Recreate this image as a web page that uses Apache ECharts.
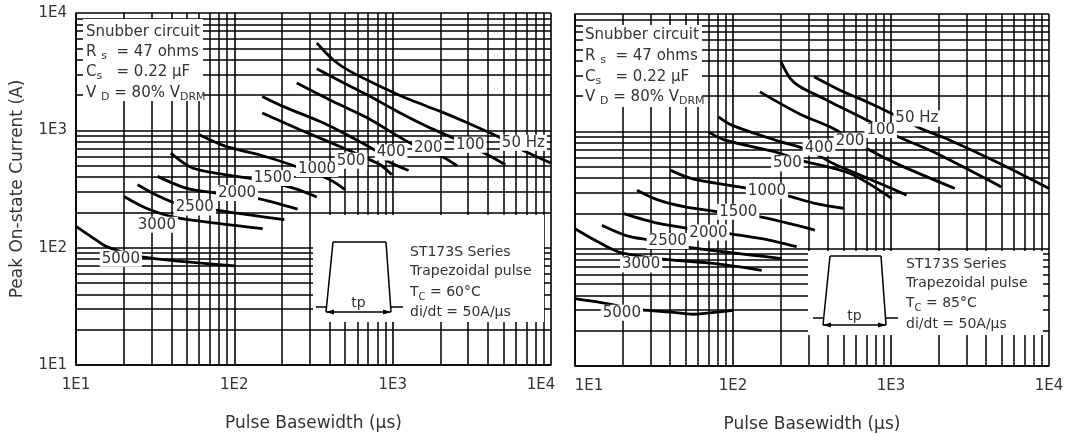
<!DOCTYPE html>
<html><head><meta charset="utf-8">
<script src="https://cdn.jsdelivr.net/npm/echarts/dist/echarts.min.js"></script>
<style>html,body{margin:0;padding:0;background:#fff}#c{width:1068px;height:436px}</style>
</head><body><div id="c"></div>
<script>
// ---------- data ----------
const xTickLabels = ['1E1','1E2','1E3','1E4'];
const yTickLabels = ['1E1','1E2','1E3','1E4'];
const minorTicks = [20,30,40,50,60,70,80,90,200,300,400,500,600,700,800,900,2000,3000,4000,5000,6000,7000,8000,9000];

// Left panel: TC = 60°C
const L_50   = [[332,5550],[420,4000],[539,3180],[871,2310],[1290,1820],[2000,1450],[2960,1160],[4790,865],[6690,674],[10000,526]];
const L_100  = [[332,3350],[539,2370],[690,2010],[1070,1450],[1650,1080],[2410,860],[3740,648],[5150,509]];
const L_200  = [[248,2530],[420,1760],[690,1280],[1290,779],[2050,599],[2550,499]];
const L_400  = [[150,1945],[203,1600],[348,1190],[486,954],[795,661],[920,550],[1260,455]];
const L_500  = [[150,1404],[260,1012],[489,707],[670,584],[834,509],[988,418]];
const L_1000 = [[60,917],[88.5,729],[144,619],[251,487],[402,379],[500,312]];
const L_1500 = [[39.7,640],[54.5,477],[88.5,418],[131,385],[236,322],[332,270]];
const L_2000 = [[32.7,405],[49.4,322],[76.5,292],[137,265],[251,213]];
const L_2500 = [[24.5,344],[31.9,283],[42.7,240],[74.6,210],[207,173]];
const L_3000 = [[20.1,273],[27.6,218],[41.7,182],[81.1,160],[151,145]];
const L_5000 = [[10,152],[13.3,117],[15.6,102],[25.3,84],[101,70]];
const L_labels = [[6690,784,'50 Hz'],[3090,754,'100'],[1680,707,'200'],[978,648,'400'],[546,551,'500'],[333,468,'1000'],[175,392,'1500'],[104,292,'2000'],[56.3,220,'2500'],[32.4,157,'3000'],[19.2,80.4,'5000']];

// Right panel: TC = 85°C
const R_50   = [[326,2920],[499,2170],[701,1790],[1009,1420],[1490,1080],[2360,841],[4880,532],[10000,326]];
const R_100  = [[201,3920],[230,2830],[266,2400],[355,1970],[431,1730],[701,1250],[1058,928],[1850,669],[5000,336]];
const R_200  = [[148,2170],[266,1400],[431,1058],[701,715],[1138,515],[2535,326]];
const R_400  = [[80.9,1330],[98.3,1130],[185,841],[300,691],[431,532],[736,391],[1255,286]];
const R_500  = [[69.9,990],[89.1,841],[185,669],[266,568],[550,437],[1009,268]];
const R_1000 = [[40,467],[54.9,396],[125,326],[213,286],[330,243],[499,221]];
const R_1500 = [[24.7,315],[33.8,259],[49.8,227],[80.9,206],[141,189],[330,144]];
const R_2000 = [[20.3,199],[33.8,164],[53.6,148],[91.4,135],[152,122],[253,104]];
const R_2500 = [[14.8,158],[20.8,130],[29.9,118],[51,103],[204,82.3]];
const R_3000 = [[10,148],[13.4,118],[18.9,93.7],[33.8,82.3],[77.1,74.6],[152,65.4]];
const R_5000 = [[10,37.5],[15.2,34.4],[25.9,30.2],[40,28.8],[56.2,27.6],[79,28.8],[100.6,29.8]];
const R_labels = [[1458,1289,'50 Hz'],[861,1024,'100'],[550,830,'200'],[350,723,'400'],[221,532,'500'],[164,311,'1000'],[108,206,'1500'],[69.9,137,'2000'],[38.6,116,'2500'],[26.2,73.2,'3000'],[19.8,28.5,'5000']];

// ---------- chart ----------
const F = 'DejaVu Sans';
const TXT = '#333';
const chart = echarts.init(document.getElementById('c'), null, {renderer:'canvas'});

function xAxis(idx){
  return {
    type:'log', logBase:10, min:10, max:10000, gridIndex:idx,
    name:'Pulse Basewidth (µs)', nameLocation:'middle', nameGap:50,
    nameTextStyle:{fontFamily:F, fontSize:17, color:TXT},
    axisLine:{show:true, lineStyle:{color:'#000', width:1.6}},
    axisTick:{show:false},
    splitLine:{show:true, lineStyle:{color:'#000', width:1.6}},
    axisLabel:{
      show:true, margin:13, fontFamily:F, fontSize:15, color:TXT,
      formatter:function(v){
        const e = Math.round(Math.log10(v));
        const s = xTickLabels[e-1];
        if(idx===0 && e===4) return '{a|'+s+'}';
        if(idx===1 && e===1) return '{b|'+s+'}';
        return s;
      },
      rich:{
        a:{fontFamily:F, fontSize:15, color:TXT, padding:[0,20,0,0]},
        b:{fontFamily:F, fontSize:15, color:TXT, padding:[0,0,0,28]}
      }
    }
  };
}
function yAxis(idx){
  const o = {
    type:'log', logBase:10, min:10, max:10000, gridIndex:idx,
    axisLine:{show:true, lineStyle:{color:'#000', width:1.6}},
    axisTick:{show:false},
    splitLine:{show:true, lineStyle:{color:'#000', width:1.6}},
    axisLabel:{show: idx===0, margin:9, fontFamily:F, fontSize:15, color:TXT,
      formatter:function(v){ return yTickLabels[Math.round(Math.log10(v))-1]; }}
  };
  if(idx===0){
    o.name='Peak On-state Current (A)'; o.nameLocation='middle'; o.nameGap=50;
    o.nameRotate=90; o.nameTextStyle={fontFamily:F, fontSize:17, color:TXT};
  }
  return o;
}
function gridSeries(idx){
  return {
    type:'line', xAxisIndex:idx, yAxisIndex:idx, data:[[10,10]], showSymbol:false, silent:true,
    lineStyle:{opacity:0}, z:1,
    markLine:{
      silent:true, symbol:['none','none'], label:{show:false}, animation:false,
      lineStyle:{type:'solid', color:'#000', width:1.5},
      emphasis:{disabled:true},
      data: minorTicks.map(v=>({xAxis:v})).concat(minorTicks.map(v=>({yAxis:v})))
    }
  };
}
function curve(idx, d){
  return {type:'line', xAxisIndex:idx, yAxisIndex:idx, data:d, showSymbol:false, smooth:0.3,
    silent:true, lineStyle:{color:'#000', width:2.8}, z:3};
}
function labels(idx, d){
  return {type:'scatter', xAxisIndex:idx, yAxisIndex:idx, data:d, symbolSize:1, silent:true,
    itemStyle:{color:'rgba(0,0,0,0)', opacity:1}, z:5,
    emphasis:{disabled:true},
    label:{show:true, position:'inside', formatter:p=>p.data[2], backgroundColor:'#fff',
      padding:[1,2,0,2], fontFamily:F, fontSize:15, color:TXT, opacity:1,
      textBorderWidth:0, textShadowBlur:0}};
}

const series = [gridSeries(0), gridSeries(1)];
[L_50,L_100,L_200,L_400,L_500,L_1000,L_1500,L_2000,L_2500,L_3000,L_5000].forEach(d=>series.push(curve(0,d)));
[R_50,R_100,R_200,R_400,R_500,R_1000,R_1500,R_2000,R_2500,R_3000,R_5000].forEach(d=>series.push(curve(1,d)));
series.push(labels(0,L_labels));
series.push(labels(1,R_labels));

// ---------- annotations ----------
const RICH = function(sz){ return {
  n:{fontFamily:F, fontSize:sz, fill:TXT, color:TXT, lineHeight:20},
  s:{fontFamily:F, fontSize:sz-4, fill:TXT, color:TXT, lineHeight:12, verticalAlign:'bottom'}
};};
function t(x,y,str,sz){
  return {type:'text', x:x, y:y, z:101, silent:true,
    style:{text:str, rich:RICH(sz), fontFamily:F, fontSize:sz, fill:TXT, verticalAlign:'middle', align:'left'}};
}
function rect(x,y,w,h){ return {type:'rect', z:100, silent:true, shape:{x:x,y:y,width:w,height:h}, style:{fill:'#fff'}}; }
function pl(pts,w){ return {type:'polyline', z:102, silent:true, shape:{points:pts}, style:{stroke:'#000', lineWidth:w||1.5, fill:null}}; }
function tri(pts){ return {type:'polygon', z:102, silent:true, shape:{points:pts}, style:{fill:'#000'}}; }

function snubber(x0,y0,w,h,tx,ty){
  return [rect(x0,y0,w,h),
    t(tx,ty[0],'{n|Snubber circuit}',15),
    t(tx,ty[1],'{n|R }{s|s}{n|  = 47 ohms}',15),
    t(tx,ty[2],'{n|C}{s|s}{n|   = 0.22 µF}',15),
    t(tx,ty[3],'{n|V }{s|D}{n| = 80% V}{s|DRM}',15)];
}
function pulse(bx,by,bw,bh, L,T,Rt,B, base, tc, tx, ty){
  const lb = L - 7, rb = Rt + 5;
  return [rect(bx,by,bw,bh),
    pl([[L,T],[Rt,T]]),
    pl([[L,T],[lb,B]]),
    pl([[Rt,T],[rb,B]]),
    pl([[lb-10,base],[lb,base]]),
    pl([[rb,base],[rb+12,base]]),
    pl([[lb,B],[rb,B]],1.5),
    tri([[lb,B],[lb+8,B-2.5],[lb+8,B+2.5]]),
    tri([[rb,B],[rb-8,B-2.5],[rb-8,B+2.5]]),
    {type:'text', x:(lb+rb)/2, y:B-9, z:103, silent:true, style:{text:'tp', fontFamily:F, fontSize:14, fill:TXT, align:'center', verticalAlign:'middle'}},
    t(tx,ty[0],'{n|ST173S Series}',14),
    t(tx,ty[1],'{n|Trapezoidal pulse}',14),
    t(tx,ty[2],'{n|T}{s|C}{n| = '+tc+'°C}',14),
    t(tx,ty[3],'{n|di/dt = 50A/µs}',14)];
}

const graphic = [].concat(
  snubber(83,19,120,82,86,[32,52,72,93]),
  snubber(583,25,119,82,585,[35,56,77,97]),
  pulse(313,215,231,107, 333,242,386,312, 307, 60, 410,[252,271,292,312]),
  pulse(808,251,235,84, 830,256,881,325, 318, 85, 906,[264,283,303,324])
);

chart.setOption({
  backgroundColor:'#fff',
  animation:false,
  grid:[
    {left:76, top:13, width:475, height:352, outerBoundsMode:'none', containLabel:false},
    {left:575, top:14, width:474, height:352, outerBoundsMode:'none', containLabel:false}
  ],
  xAxis:[xAxis(0), xAxis(1)],
  yAxis:[yAxis(0), yAxis(1)],
  series:series,
  graphic:graphic
});
</script></body></html>
